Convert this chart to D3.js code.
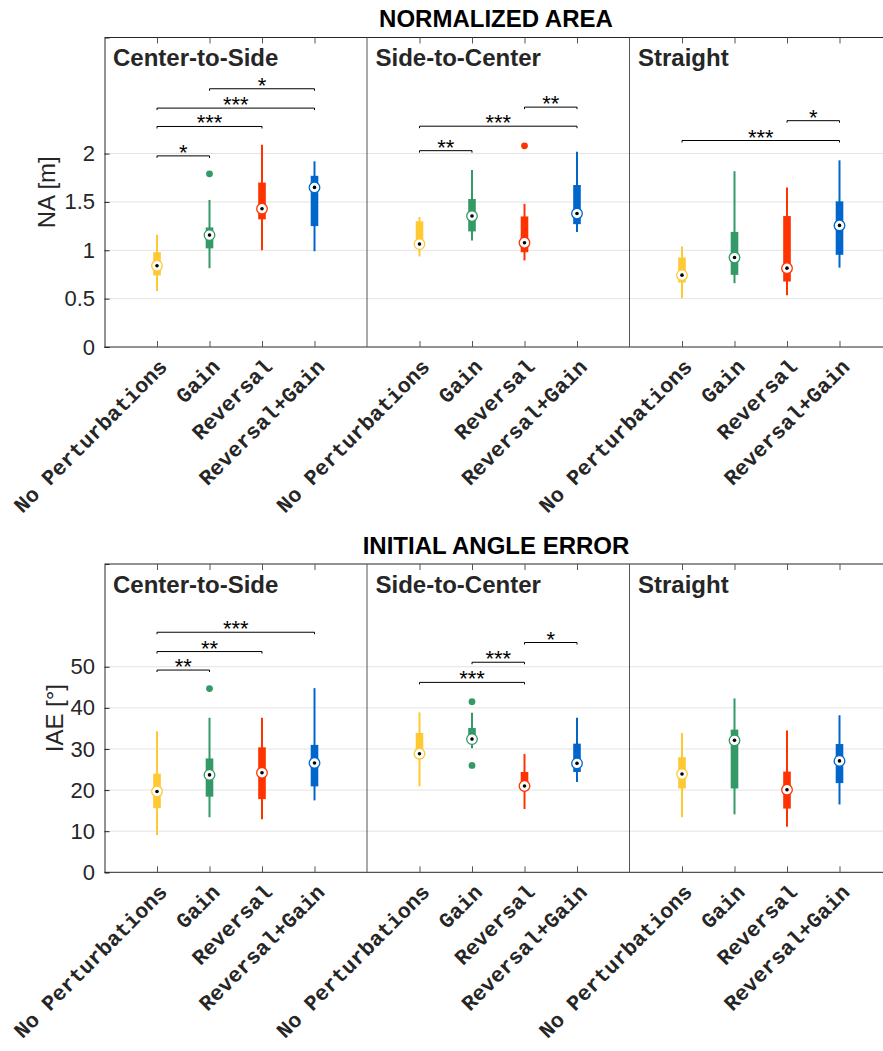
<!DOCTYPE html>
<html>
<head>
<meta charset="utf-8">
<script src="https://cdn.jsdelivr.net/npm/d3@7"></script>
<style>
html,body{margin:0;padding:0;background:#fff;}
svg{display:block;}
</style>
</head>
<body>
<script>
// ---------- DATA ----------
const categories = ["No Perturbations", "Gain", "Reversal", "Reversal+Gain"];
const conditions = ["Center-to-Side", "Side-to-Center", "Straight"];
const colors = ["#FFC933", "#339966", "#FF3300", "#0066CC"];

// Normalized area (per condition, per category)
const naLow  = [[0.58, 0.815, 1.00, 0.99], [0.936, 1.10, 0.895, 1.19], [0.505, 0.66, 0.535, 0.82]];
const naQ1   = [[0.74, 1.02, 1.32, 1.25], [1.04, 1.195, 0.98, 1.27], [0.667, 0.746, 0.677, 0.953]];
const naMed  = [[0.84, 1.157, 1.43, 1.65], [1.064, 1.354, 1.078, 1.38], [0.743, 0.925, 0.815, 1.257]];
const naQ3   = [[0.98, 1.236, 1.70, 1.77], [1.30, 1.53, 1.35, 1.675], [0.925, 1.19, 1.354, 1.506]];
const naHigh = [[1.16, 1.52, 2.09, 1.92], [1.344, 1.83, 1.48, 2.02], [1.04, 1.817, 1.65, 1.93]];
const naOutliers = [[0, 1, 1.79], [1, 2, 2.08]];
const naSig = [[0, 0, 1, 1.976, "*"], [0, 0, 2, 2.28, "***"], [0, 0, 3, 2.47, "***"], [0, 1, 3, 2.67, "*"],
               [1, 0, 1, 2.03, "**"], [1, 0, 3, 2.283, "***"], [1, 2, 3, 2.48, "**"],
               [2, 0, 3, 2.135, "***"], [2, 2, 3, 2.34, "*"]];
const naTicks = [0, 0.5, 1, 1.5, 2];

// Initial angle error
const iaeLow  = [[9.1, 13.4, 12.9, 17.5], [20.9, 30.2, 15.4, 21.95], [13.4, 14.1, 11.1, 16.5]];
const iaeQ1   = [[15.6, 18.4, 17.8, 20.9], [27.8, 32.0, 20.1, 24.4], [20.4, 20.4, 15.5, 21.7]];
const iaeMed  = [[19.66, 23.7, 24.2, 26.6], [28.85, 32.4, 21.0, 26.5], [23.9, 32.1, 20.1, 27.1]];
const iaeQ3   = [[24.0, 27.7, 30.4, 31.0], [33.9, 35.1, 24.4, 31.3], [28.0, 34.7, 24.5, 31.2]];
const iaeHigh = [[34.3, 37.6, 37.6, 44.8], [38.9, 38.8, 28.8, 37.6], [33.9, 42.3, 34.5, 38.2]];
const iaeOutliers = [[0, 1, 44.7], [1, 1, 41.5], [1, 1, 26.0]];
const iaeSig = [[0, 0, 1, 49.2, "**"], [0, 0, 2, 53.7, "**"], [0, 0, 3, 58.4, "***"],
                [1, 0, 2, 46.2, "***"], [1, 1, 2, 51.1, "***"], [1, 2, 3, 55.9, "*"]];
const iaeTicks = [0, 10, 20, 30, 40, 50];

// ---------- DRAW ----------
const W = 883, H = 1051;
const svg = d3.select("body").append("svg").attr("width", W).attr("height", H);
const plotLeft = 104.5, panelW = 262.5;
const sans = "'Liberation Sans', Arial, sans-serif";
const mono = "'Liberation Mono', 'Courier New', monospace";

function drawChart(cfg) {
  const g = svg.append("g");
  const y = d3.scaleLinear().domain(cfg.domain).range([cfg.bottom, cfg.top]);
  const plotRight = W + 2;

  // gridlines
  g.append("g").selectAll("line").data(cfg.ticks.filter(t => t > 0)).join("line")
    .attr("x1", plotLeft).attr("x2", plotRight)
    .attr("y1", d => y(d)).attr("y2", d => y(d))
    .attr("stroke", "#e3e3e3").attr("stroke-width", 1);

  // y axis
  const yAxis = d3.axisLeft(y).tickValues(cfg.ticks).tickSize(-5).tickPadding(9.5)
    .tickFormat(d3.format("~g"));
  const ya = g.append("g").attr("transform", `translate(${plotLeft},0)`).call(yAxis);
  ya.select(".domain").attr("stroke", "#262626");
  ya.selectAll(".tick line").attr("stroke", "#262626");
  ya.selectAll(".tick text").attr("font-family", sans).attr("font-size", 22).attr("fill", "#262626");

  // y label
  g.append("text")
    .attr("transform", `translate(${cfg.ylabelX},${(cfg.top + cfg.bottom) / 2}) rotate(-90)`)
    .attr("text-anchor", "middle").attr("font-family", sans).attr("font-size", 24)
    .attr("fill", "#262626").text(cfg.ylabel);

  // title
  g.append("text").attr("x", 496).attr("y", cfg.titleY).attr("text-anchor", "middle")
    .attr("font-family", sans).attr("font-weight", "bold").attr("font-size", 24)
    .attr("fill", "#000").text(cfg.title);

  // frame top and bottom
  g.append("line").attr("x1", plotLeft).attr("x2", plotRight).attr("y1", cfg.top).attr("y2", cfg.top)
    .attr("stroke", "#262626").attr("stroke-width", 1);
  g.append("line").attr("x1", plotLeft).attr("x2", plotRight).attr("y1", cfg.bottom).attr("y2", cfg.bottom)
    .attr("stroke", "#262626").attr("stroke-width", 1);

  conditions.forEach((cond, ci) => {
    const x0 = plotLeft + ci * panelW;
    const x = d3.scalePoint().domain(categories).range([x0, x0 + panelW]).padding(1);
    const pg = g.append("g");

    // divider
    if (ci > 0) {
      pg.append("line").attr("x1", x0).attr("x2", x0).attr("y1", cfg.top).attr("y2", cfg.bottom)
        .attr("stroke", "#555").attr("stroke-width", 1);
    }

    // bottom axis with rotated labels
    const xb = d3.axisBottom(x).tickSize(-6).tickSizeOuter(0).tickPadding(0);
    const xa = pg.append("g").attr("transform", `translate(0,${cfg.bottom})`).call(xb);
    xa.select(".domain").remove();
    xa.selectAll(".tick line").attr("stroke", "#555");
    xa.selectAll(".tick text")
      .attr("font-family", mono).attr("font-weight", "bold").attr("font-size", 21.5).attr("fill", "#262626")
      .attr("text-anchor", "end").attr("dy", 0).attr("y", 0)
      .attr("transform", "translate(11,21) rotate(-45)");

    // top ticks
    const xt = d3.axisTop(x).tickSize(-6).tickSizeOuter(0).tickFormat("");
    const xta = pg.append("g").attr("transform", `translate(0,${cfg.top})`).call(xt);
    xta.select(".domain").remove();
    xta.selectAll(".tick line").attr("stroke", "#555");

    // panel label
    pg.append("text").attr("x", x0 + 8.5).attr("y", cfg.top + 28.5)
      .attr("font-family", sans).attr("font-weight", "bold").attr("font-size", 24)
      .attr("fill", "#262626").text(cond);

    // boxes
    const rows = categories.map((c, k) => ({
      cat: c, k,
      low: cfg.low[ci][k], q1: cfg.q1[ci][k], med: cfg.med[ci][k], q3: cfg.q3[ci][k], high: cfg.high[ci][k]
    }));
    const bg = pg.append("g").selectAll("g").data(rows).join("g");
    bg.append("line").attr("x1", d => x(d.cat)).attr("x2", d => x(d.cat))
      .attr("y1", d => y(d.low)).attr("y2", d => y(d.high))
      .attr("stroke", d => colors[d.k]).attr("stroke-width", 2);
    bg.append("rect").attr("x", d => x(d.cat) - 3.8).attr("width", 7.6)
      .attr("y", d => y(d.q3)).attr("height", d => y(d.q1) - y(d.q3))
      .attr("fill", d => colors[d.k]);
    bg.append("circle").attr("cx", d => x(d.cat)).attr("cy", d => y(d.med)).attr("r", 5.3)
      .attr("fill", "#fff").attr("stroke", d => colors[d.k]).attr("stroke-width", 1.3);
    bg.append("circle").attr("cx", d => x(d.cat)).attr("cy", d => y(d.med)).attr("r", 1.8)
      .attr("fill", "#000");

    // outliers
    pg.append("g").selectAll("circle").data(cfg.outliers.filter(o => o[0] === ci)).join("circle")
      .attr("cx", d => x(categories[d[1]])).attr("cy", d => y(d[2])).attr("r", 3.4)
      .attr("fill", d => colors[d[1]]);

    // significance brackets
    const sg = pg.append("g").selectAll("g").data(cfg.sig.filter(s => s[0] === ci)).join("g");
    sg.append("path")
      .attr("d", d => {
        const xa_ = x(categories[d[1]]), xb_ = x(categories[d[2]]), yy = y(d[3]);
        return `M${xa_},${yy + 2}V${yy}H${xb_}V${yy + 2}`;
      })
      .attr("fill", "none").attr("stroke", "#000").attr("stroke-width", 1);
    sg.append("text")
      .attr("x", d => (x(categories[d[1]]) + x(categories[d[2]])) / 2)
      .attr("y", d => y(d[3]) + 4)
      .attr("text-anchor", "middle").attr("font-family", sans).attr("font-size", 22)
      .attr("fill", "#000").text(d => d[4]);
  });
}

drawChart({
  top: 37.5, bottom: 347, domain: [0, 3.2], ticks: naTicks,
  ylabel: "NA [m]", ylabelX: 55, title: "NORMALIZED AREA", titleY: 27,
  low: naLow, q1: naQ1, med: naMed, q3: naQ3, high: naHigh, outliers: naOutliers, sig: naSig
});
drawChart({
  top: 564, bottom: 872.3, domain: [0, 75], ticks: iaeTicks,
  ylabel: "IAE [°]", ylabelX: 63, title: "INITIAL ANGLE ERROR", titleY: 554,
  low: iaeLow, q1: iaeQ1, med: iaeMed, q3: iaeQ3, high: iaeHigh, outliers: iaeOutliers, sig: iaeSig
});
</script>
</body>
</html>
